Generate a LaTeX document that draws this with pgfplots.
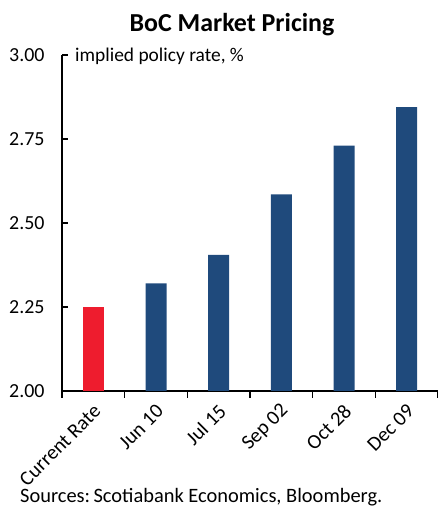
\documentclass[border=0pt]{standalone}
\usepackage{fontspec}
\setmainfont{Carlito}
\usepackage{pgfplots}
\pgfplotsset{compat=1.18}
\definecolor{sred}{HTML}{EE1C2E}
\definecolor{sblue}{HTML}{1F4A7C}
\begin{document}
\begin{tikzpicture}[x=1bp,y=1bp]
\useasboundingbox (0,0) rectangle (438,510);
\begin{axis}[
  at={(62bp,119bp)}, anchor=south west,
  scale only axis, width=376bp, height=336bp,
  xmin=-0.5, xmax=5.5, ymin=2, ymax=3,
  axis x line*=bottom, axis y line*=left,
  axis line style={line width=1.6bp, black},
  xtick={0,...,5},
  xticklabels={Current Rate, Jun 10, Jul 15, Sep 02, Oct 28, Dec 09},
  major x tick style={draw=none},
  minor xtick={-0.5,0.5,...,5.5},
  xtick align=outside,
  minor tick length=7bp,
  minor x tick style={line width=1.6bp, black},
  ytick={2,2.25,...,3},
  ytick align=inside,
  major tick length=6bp,
  y tick style={line width=1.6bp, black},
  yticklabel style={/pgf/number format/fixed, /pgf/number format/fixed zerofill, /pgf/number format/precision=2, font=\fontsize{20}{22}\selectfont, xshift=-14bp},
  /pgf/number format/assume math mode=true,
  xticklabel style={rotate=45, anchor=east, font=\fontsize{20.5}{24}\selectfont, xshift=-1.5bp, yshift=-10.5bp},
  ybar, bar width=21bp, bar shift=0pt,
  clip=false,
]
\addplot[fill=sred, draw=none] coordinates {(0,2.25)};
\addplot[fill=sblue, draw=none] coordinates {(1,2.32) (2,2.405) (3,2.585) (4,2.73) (5,2.845)};
\end{axis}
\node[font=\fontsize{26}{30}\selectfont\bfseries] at (232,485) {BoC Market Pricing};
\node[anchor=west, font=\fontsize{19.5}{22}\selectfont, inner sep=0pt] at (75,454) {implied policy rate, \%};
\node[anchor=west, font=\fontsize{20.5}{22}\selectfont, inner sep=0pt] at (20,13) {Sources:\,Scotiabank Economics, Bloomberg.};
\end{tikzpicture}
\end{document}
